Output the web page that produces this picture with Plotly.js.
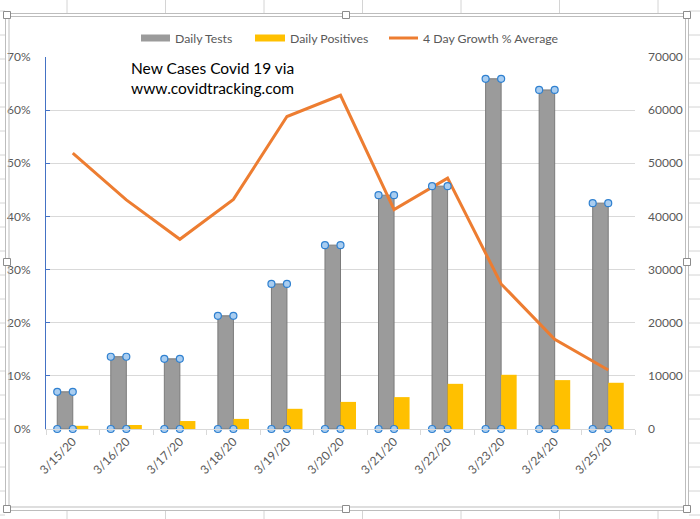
<!DOCTYPE html>
<html>
<head>
<meta charset="utf-8">
<script src="https://cdn.plot.ly/plotly-3.0.1.min.js"></script>
<style>
  html, body { margin: 0; padding: 0; background: #fff; }
  #chart { width: 700px; height: 519px; }
</style>
</head>
<body>
<div id="chart"></div>
<script>
// Daily COVID-19 testing, 3/15/20 – 3/25/20
const dates = ['3/15/20', '3/16/20', '3/17/20', '3/18/20', '3/19/20', '3/20/20',
               '3/21/20', '3/22/20', '3/23/20', '3/24/20', '3/25/20'];
const dailyTests = [7000, 13600, 13200, 21300, 27300, 34600, 44000, 45700, 65900, 63800, 42500];
const dailyPositives = [600, 750, 1500, 1900, 3800, 5100, 6000, 8500, 10200, 9200, 8700];
const growthAvg = [0.519, 0.431, 0.357, 0.432, 0.588, 0.628, 0.413, 0.472, 0.273, 0.169, 0.111];

const seriesNames = ['Daily Tests', 'Daily Positives', '4 Day Growth % Average'];
const noteText = 'New Cases Covid 19 via<br>www.covidtracking.com';

// colours
const GRAY = '#9b9b9b', GRAY_EDGE = '#7b7b7b', GOLD = '#FFC000', ORANGE = '#ED7D31';
const TXT = '#595959', GRID = '#d9d9d9', SEL = '#4472C4';

// plot-area geometry in pixels
const W = 700, H = 519, L = 46, R = 635, T = 57, B = 429;
const PW = R - L, PH = B - T;
const px = x => (x - L) / PW;
const py = y => (B - y) / PH;

const BARGAP = 0.42;
const barW = (1 - BARGAP) / 2;

const idx = dates.map((_, i) => i);

// selection handles at the corners of the test bars
const hx = [], hy = [];
idx.forEach(i => {
  hx.push(i - barW, i, i - barW, i);
  hy.push(dailyTests[i], dailyTests[i], 0, 0);
});

const traces = [
  { type: 'bar', name: seriesNames[0], x: dates, y: dailyTests, xaxis: 'x', yaxis: 'y',
    marker: { color: GRAY, line: { color: GRAY_EDGE, width: 1 } }, showlegend: false },
  { type: 'bar', name: seriesNames[1], x: dates, y: dailyPositives, xaxis: 'x', yaxis: 'y',
    marker: { color: GOLD, line: { width: 0 } }, showlegend: false },
  { type: 'scatter', mode: 'lines', name: seriesNames[2], x: dates, y: growthAvg,
    xaxis: 'x', yaxis: 'y2', line: { color: ORANGE, width: 3 }, showlegend: false },
  { type: 'scatter', mode: 'markers', x: hx, y: hy, xaxis: 'x2', yaxis: 'y',
    marker: { size: 7, color: '#a9cdf0', line: { color: '#2f80d0', width: 1.2 } },
    showlegend: false, hoverinfo: 'skip', cliponaxis: false }
];

const shapes = [];
const annotations = [];

// worksheet cells around the chart object
const cols = [67, 165.5, 264, 362.5, 461, 559.5, 658];
const rows = [];
for (let k = 0; k <= 21; k++) rows.push(11 + 24 * k);
const cellLine = { color: '#d4d4d4', width: 1 };
cols.forEach(c => {
  shapes.push({ type: 'line', xref: 'paper', yref: 'paper', x0: px(c), x1: px(c), y0: py(0), y1: py(13), line: cellLine });
  shapes.push({ type: 'line', xref: 'paper', yref: 'paper', x0: px(c), x1: px(c), y0: py(511), y1: py(519), line: cellLine });
});
rows.forEach(r => {
  shapes.push({ type: 'line', xref: 'paper', yref: 'paper', x0: px(0), x1: px(5), y0: py(r), y1: py(r), line: cellLine });
  shapes.push({ type: 'line', xref: 'paper', yref: 'paper', x0: px(689), x1: px(700), y0: py(r), y1: py(r), line: cellLine });
});

// chart object frame (double border)
shapes.push({ type: 'rect', xref: 'paper', yref: 'paper', x0: px(5.5), x1: px(688.5), y0: py(13.5), y1: py(510.5),
  line: { color: '#bdbdbd', width: 1 } });
shapes.push({ type: 'rect', xref: 'paper', yref: 'paper', x0: px(9), x1: px(685.5), y0: py(16.5), y1: py(507),
  line: { color: '#bdbdbd', width: 1 } });

// resize handles
[[7, 15], [346, 15], [687, 15], [7, 262], [687, 262], [7, 509], [346, 509], [687, 509]].forEach(([x, y]) => {
  shapes.push({ type: 'rect', xref: 'paper', yref: 'paper', x0: px(x - 3.5), x1: px(x + 3.5), y0: py(y - 3.5), y1: py(y + 3.5),
    fillcolor: '#ffffff', line: { color: '#8c8c8c', width: 1 } });
});

// legend
const legendFont = { family: 'Lato, "Liberation Sans", sans-serif', size: 12.3, color: TXT };
shapes.push({ type: 'rect', xref: 'paper', yref: 'paper', x0: px(141), x1: px(170), y0: py(34.5), y1: py(41.5),
  fillcolor: GRAY, line: { width: 0 } });
shapes.push({ type: 'rect', xref: 'paper', yref: 'paper', x0: px(255), x1: px(285), y0: py(34.5), y1: py(41.5),
  fillcolor: GOLD, line: { width: 0 } });
shapes.push({ type: 'line', xref: 'paper', yref: 'paper', x0: px(389), x1: px(418), y0: py(38), y1: py(38),
  line: { color: ORANGE, width: 3 } });
[[173, seriesNames[0]], [288, seriesNames[1]], [421, seriesNames[2]]].forEach(([x, t]) => {
  annotations.push({ xref: 'paper', yref: 'paper', x: px(x), y: py(38), xanchor: 'left', yanchor: 'middle',
    text: t, showarrow: false, font: legendFont });
});

// source note
annotations.push({ xref: 'paper', yref: 'paper', x: px(129), y: py(57), xanchor: 'left', yanchor: 'top',
  align: 'left', text: noteText, showarrow: false,
  font: { family: 'Lato, "Liberation Sans", sans-serif', size: 15.5, color: '#000000' } });

const tickFont = { family: 'Lato, "Liberation Sans", sans-serif', size: 12, color: TXT };

const layout = {
  width: W, height: H,
  margin: { l: L, r: W - R, t: T, b: H - B, pad: 0 },
  paper_bgcolor: '#ffffff',
  plot_bgcolor: 'rgba(0,0,0,0)',
  barmode: 'group',
  bargap: BARGAP,
  bargroupgap: 0,
  showlegend: false,
  xaxis: {
    type: 'category', range: [-0.5, dates.length - 0.5],
    tickangle: -45, tickfont: tickFont,
    showline: true, linecolor: GRID, linewidth: 1,
    ticks: 'outside', tickson: 'boundaries', ticklen: 5, tickcolor: GRID,
    showgrid: false, zeroline: false, fixedrange: true
  },
  xaxis2: {
    overlaying: 'x', range: [-0.5, dates.length - 0.5], visible: false, fixedrange: true
  },
  yaxis: {
    side: 'right', range: [0, 70000], dtick: 10000, tick0: 0, tickformat: 'd',
    tickfont: tickFont, showgrid: true, gridcolor: GRID, gridwidth: 1,
    zeroline: false, showline: false, ticks: '', ticklabelstandoff: 12,
    fixedrange: true
  },
  yaxis2: {
    overlaying: 'y', side: 'left', range: [0, 0.7], dtick: 0.1, tick0: 0,
    tickformat: '.0%', tickfont: tickFont, showgrid: false, zeroline: false,
    showline: true, linecolor: SEL, linewidth: 1,
    ticks: 'inside', ticklen: 4, tickcolor: SEL, ticklabelstandoff: 12,
    fixedrange: true
  },
  shapes: shapes,
  annotations: annotations
};

Plotly.newPlot('chart', traces, layout, { displayModeBar: false, staticPlot: true });
</script>
</body>
</html>
